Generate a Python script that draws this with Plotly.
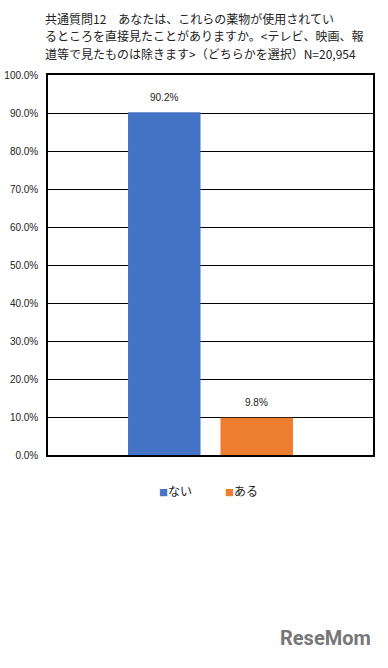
import plotly.graph_objects as go

categories = ["共通質問12"]
series_names = ["ない", "ある"]
series_values = [90.2, 9.8]
series_colors = ["#4472C4", "#ED7D31"]
tick_vals = [0, 10, 20, 30, 40, 50, 60, 70, 80, 90, 100]
tick_text = [f"{v:.1f}%" for v in tick_vals]

title_lines = [
    "共通質問12　あなたは、これらの薬物が使用されてい",
    "るところを直接見たことがありますか。<テレビ、映画、報",
    "道等で見たものは除きます>（どちらかを選択）N=20,954",
]

W, H = 388, 668
ML, MR, MT, MB = 48, 15, 75, 213
PW = W - ML - MR
PH = H - MT - MB
BARGAP = 0.431

fig = go.Figure()
for name, val, col in zip(series_names, series_values, series_colors):
    fig.add_trace(go.Bar(
        x=categories, y=[val], name=name, marker_color=col,
        marker_line_width=0, showlegend=False,
    ))

fig.update_layout(
    width=W, height=H,
    margin=dict(l=ML, r=MR, t=MT, b=MB, pad=0, autoexpand=False),
    paper_bgcolor="white", plot_bgcolor="white",
    barmode="group", bargap=BARGAP, bargroupgap=0.216,
    font=dict(family="Noto Sans CJK JP", color="#222"),
)
fig.update_xaxes(showticklabels=False, showline=True, linecolor="black", linewidth=1.5,
                 mirror=True, showgrid=False, zeroline=False, automargin=False)
fig.update_yaxes(range=[0, 100], tickvals=tick_vals, ticktext=tick_text,
                 showgrid=True, gridcolor="black", gridwidth=1.2,
                 showline=True, linecolor="black", linewidth=1.5, mirror=True,
                 zeroline=False, ticks="", ticklen=0, ticklabelstandoff=6,
                 automargin=False,
                 tickfont=dict(family="Liberation Sans, Arial", size=10, color="#222"))

# data labels
slot = PW * (1 - BARGAP) / len(series_values)
for i, val in enumerate(series_values):
    fig.add_annotation(text=f"{val:.1f}%", x=categories[0], y=val,
                       xref="x", yref="y", showarrow=False,
                       xshift=(i - (len(series_values) - 1) / 2) * slot,
                       yshift=15, yanchor="middle",
                       font=dict(family="Liberation Sans, Arial", size=10, color="#222"))

for i, line in enumerate(title_lines):
    fig.add_annotation(text=line, xref="paper", yref="paper",
                       x=-5 / PW, y=1 + (MT - 18 - i * 17.5) / PH,
                       xanchor="left", yanchor="middle", showarrow=False,
                       font=dict(family="Noto Sans CJK JP", size=12, color="#222"))

# legend drawn as text markers
legend_x = [(157 - ML) / PW, (223 - ML) / PW]
for name, col, lx in zip(series_names, series_colors, legend_x):
    fig.add_annotation(
        text=f"<span style='color:{col};font-size:9px'>■</span>{name}",
        xref="paper", yref="paper", x=lx, y=(PH + MT - 490) / PH,
        xanchor="left", yanchor="middle", showarrow=False,
        font=dict(family="Noto Sans CJK JP", size=12, color="#222"))

fig.add_annotation(text="<b>ReseMom</b>", xref="paper", yref="paper",
                   x=1.0, y=(PH + MT - 638) / PH, xanchor="right", yanchor="middle",
                   showarrow=False,
                   font=dict(family="Roboto, Liberation Sans", size=20, color="#777"))

fig.write_html("out.html")
